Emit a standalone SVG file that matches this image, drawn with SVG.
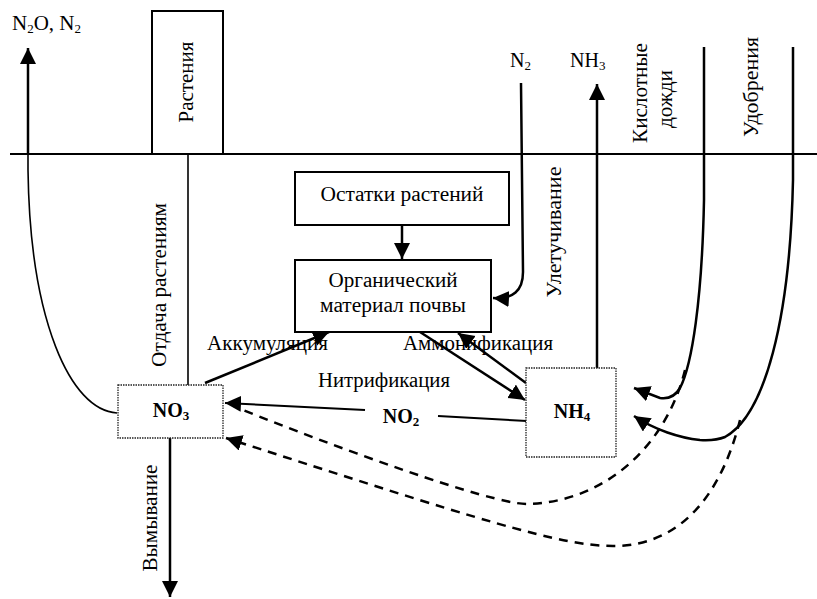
<svg xmlns="http://www.w3.org/2000/svg" width="817" height="599" viewBox="0 0 817 599">
<style>
text{font-family:'Liberation Serif','Times New Roman',serif;font-size:20px;fill:#000}
.b{font-weight:bold}
.sub{font-size:13px}
.box{fill:#fff;stroke:#000;stroke-width:2}
.dbox{fill:#fff;stroke:#222;stroke-width:1.3;stroke-dasharray:1.5 1}
.ln{fill:none;stroke:#000;stroke-width:2.5}
.thin{fill:none;stroke:#000;stroke-width:1.6}
.dash{fill:none;stroke:#000;stroke-width:2.5;stroke-dasharray:9 7}
</style>
<defs>
<marker id="ah" markerUnits="userSpaceOnUse" markerWidth="17" markerHeight="17" refX="16" refY="8" orient="auto" viewBox="0 0 17 17">
<path d="M0,0 L16,8 L0,16 z" fill="#000"/>
</marker>
</defs>
<rect width="817" height="599" fill="#fff"/>

<g id="ground">
<line x1="10" y1="154" x2="817" y2="154" stroke="#000" stroke-width="2.2"/>
</g>

<g id="connectors">
<path class="ln" d="M28,154 L28,48" marker-end="url(#ah)"/>
<path class="thin" d="M28,154 L28,170 C30,320 70,410 117,413"/>
<path class="thin" d="M188,154 L188,385"/>
<path class="ln" d="M170,438 L170,597" marker-end="url(#ah)"/>
<path class="ln" d="M402,225 L402,259" marker-end="url(#ah)"/>
<path class="ln" d="M521,83 L523,272 Q523,300 493,298" marker-end="url(#ah)"/>
<path class="ln" d="M597,368 L597,84" marker-end="url(#ah)"/>
<path class="ln" d="M205,383 L329,332" marker-end="url(#ah)"/>
<path class="ln" d="M420,332 L525,400" marker-end="url(#ah)"/>
<path class="ln" d="M526,383 L458,333" marker-end="url(#ah)"/>
<path class="thin" style="stroke-width:2" d="M527,421 L438,416"/>
<path class="ln" style="stroke-width:2" d="M365,410 L225,403" marker-end="url(#ah)"/>
<path class="ln" d="M704,47 L704,200 C702,300 692,365 680,388 Q673,400 660,398 L634,388" marker-end="url(#ah)"/>
<path class="ln" d="M793,47 L793,180 C790,320 765,415 725,437 Q715,441 700,440 C680,438 655,430 634,416" marker-end="url(#ah)"/>
<path class="dash" d="M685,370 C668,440 610,502 527,504 C490,504 330,445 243,410"/>
<path class="dash" d="M740,420 C725,480 690,546 613,546 C560,546 480,520 226,438" marker-end="url(#ah)"/>
</g>

<g id="plants">
<rect x="152" y="11" width="71" height="143" fill="#fff" stroke="#000" stroke-width="2"/>
<text transform="translate(193,82) rotate(-90)" text-anchor="middle" textLength="81" lengthAdjust="spacingAndGlyphs">Растения</text>
</g>

<g id="residues">
<rect class="box" x="295" y="172" width="214" height="53"/>
<text x="402" y="201" text-anchor="middle" textLength="163" lengthAdjust="spacingAndGlyphs">Остатки растений</text>
</g>

<g id="organic">
<rect class="box" x="295" y="260" width="196" height="72"/>
<text x="393" y="287" text-anchor="middle" textLength="129" lengthAdjust="spacingAndGlyphs">Органический</text>
<text x="393" y="312" text-anchor="middle" textLength="146" lengthAdjust="spacingAndGlyphs">материал почвы</text>
</g>

<g id="no3">
<rect class="dbox" x="118" y="385" width="105" height="53"/>
<text class="b" x="171" y="417" text-anchor="middle">NO<tspan class="sub" dy="3">3</tspan></text>
</g>

<g id="nh4">
<rect class="dbox" x="526" y="368" width="90" height="89"/>
<text class="b" x="572" y="418" text-anchor="middle">NH<tspan class="sub" dy="3">4</tspan></text>
</g>

<g id="no2">
<text class="b" x="401" y="423" text-anchor="middle">NO<tspan class="sub" dy="3">2</tspan></text>
</g>

<g id="labels">
<text x="12" y="30" style="font-size:21px">N<tspan class="sub" dy="3">2</tspan><tspan dy="-3">O, N</tspan><tspan class="sub" dy="3">2</tspan></text>
<text x="510" y="67">N<tspan class="sub" dy="3">2</tspan></text>
<text x="570" y="67">NH<tspan class="sub" dy="3">3</tspan></text>
<text transform="translate(166,285) rotate(-90)" text-anchor="middle" textLength="164" lengthAdjust="spacingAndGlyphs">Отдача растениям</text>
<text transform="translate(157,518) rotate(-90)" text-anchor="middle" textLength="107" lengthAdjust="spacingAndGlyphs">Вымывание</text>
<text transform="translate(561,232) rotate(-90)" text-anchor="middle" textLength="131" lengthAdjust="spacingAndGlyphs">Улетучивание</text>
<text transform="translate(647,93) rotate(-90)" text-anchor="middle" textLength="100" lengthAdjust="spacingAndGlyphs">Кислотные</text>
<text transform="translate(672,99) rotate(-90)" text-anchor="middle" textLength="58" lengthAdjust="spacingAndGlyphs">дожди</text>
<text transform="translate(758,87) rotate(-90)" text-anchor="middle" textLength="100" lengthAdjust="spacingAndGlyphs">Удобрения</text>
<text x="207" y="350" textLength="121" lengthAdjust="spacingAndGlyphs">Аккумуляция</text>
<text x="403" y="350" textLength="150" lengthAdjust="spacingAndGlyphs">Аммонификация</text>
<text x="318" y="387" textLength="132" lengthAdjust="spacingAndGlyphs">Нитрификация</text>
</g>
</svg>
